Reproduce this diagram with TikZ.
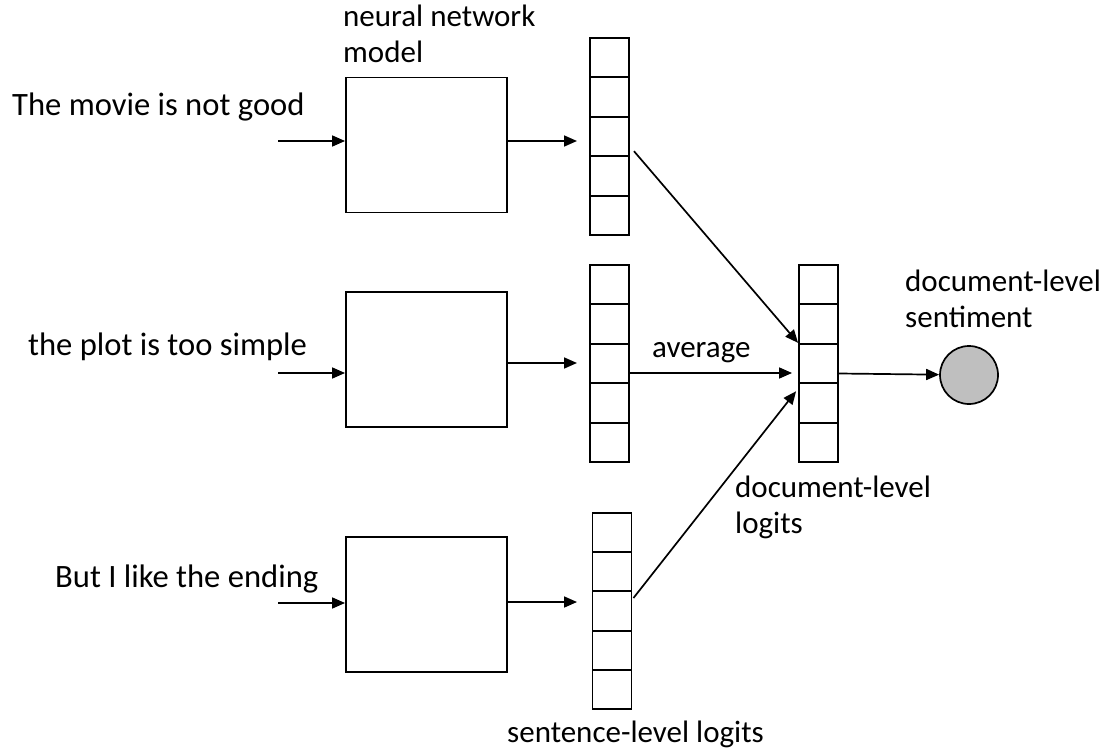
\documentclass[tikz,border=0pt]{standalone}
\usepackage{fontspec}
\setmainfont{Carlito}
\usetikzlibrary{arrows.meta,calc}
\tikzset{
  cell/.style={draw, line width=1.9pt, minimum width=39pt, minimum height=39.4pt, inner sep=0pt},
  nnbox/.style={draw, line width=1.9pt, minimum width=161pt, minimum height=135pt, inner sep=0pt},
  arr/.style={line width=1.7pt, -{Triangle[length=13pt,width=11pt]}},
  sent/.style={anchor=base west, inner sep=0pt, font=\fontsize{32.6}{38}\selectfont},
  lbl/.style={anchor=base west, inner sep=0pt, align=left, font=\fontsize{31}{36}\selectfont},
  outc/.style={draw, line width=1.7pt, circle, fill=black!25, minimum size=58pt, inner sep=0pt}
}
\begin{document}
\begin{tikzpicture}[x=1pt,y=-1pt]
\useasboundingbox (0,0) rectangle (1099,749);
% boxes
\node[nnbox] (b1) at (426.5,145) {};
\node[nnbox] (b2) at (426.5,359.5) {};
\node[nnbox] (b3) at (426.5,604.5) {};
% vectors
\foreach \i/\y in {1/57.7,2/97.1,3/136.5,4/175.9,5/215.3}{
  \node[cell] (v1c\i) at (609.5,\y) {};
}
\foreach \i/\y in {1/284.7,2/324.1,3/363.5,4/402.9,5/442.3}{
  \node[cell] (v2c\i) at (609.5,\y) {};
  \node[cell] (d\i) at (818.5,\y) {};
}
\foreach \i/\y in {1/532.6,2/571.8,3/611,4/650.2,5/689.4}{
  \node[cell, minimum height=39.2pt] (v3c\i) at (612,\y) {};
}
\node[outc] (out) at (969,375) {};
% texts
\node[sent] (s1) at (12,116) {The movie is not good};
\node[sent] (s2) at (28,355) {the plot is too simple};
\node[sent] (s3) at (55,587) {But I like the ending};
\node[lbl] (nn) at (343,63) {neural network\\model};
\node[lbl] (avg) at (652,357) {average};
\node[lbl] (dls) at (905,327) {document-level\\sentiment};
\node[lbl] (dll) at (735,533) {document-level\\logits};
\node[lbl] (sll) at (507,742) {sentence-level logits};
% input arrows
\coordinate (i1) at (278,141);
\coordinate (i2) at (278,373);
\coordinate (i3) at (278,603);
\draw[arr] (i1) -- (i1 -| b1.west);
\draw[arr] (i2) -- (i2 -| b2.west);
\draw[arr] (i3) -- (i3 -| b3.west);
% box to vector arrows
\coordinate (t1) at (577,141);
\coordinate (t2) at (577,363);
\coordinate (t3) at (577,602);
\draw[arr] (t1 -| b1.east) -- (t1);
\draw[arr] (t2 -| b2.east) -- (t2);
\draw[arr] (t3 -| b3.east) -- (t3);
% to document vector
\draw[arr] ($(v1c3.south east)+(4,-6)$) -- (d3.north west);
\draw[arr] ($(v2c3.east)+(0,9.5)$) -- ($(d3.west)+(-6,9.5)$);
\draw[arr] ($(v3c3.east)+(1,-13)$) -- ($(d4.north west)+(-2,9)$);
\draw[arr] ($(d3.east)+(0,10)$) -- (out);
\end{tikzpicture}
\end{document}
